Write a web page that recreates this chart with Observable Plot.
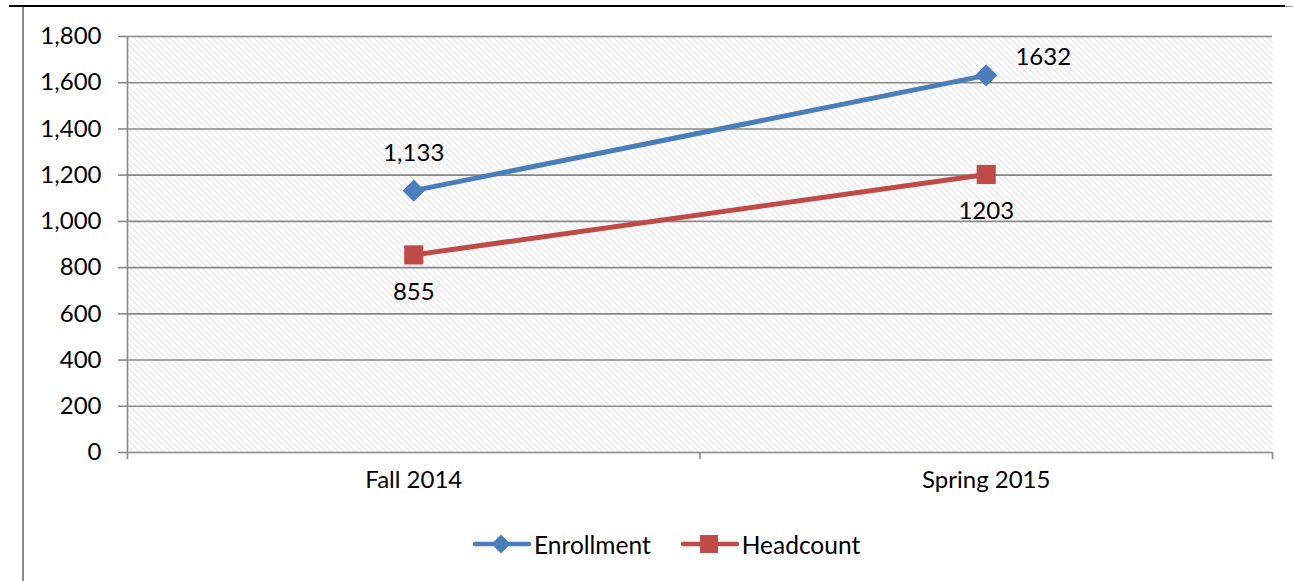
<!DOCTYPE html>
<html><head><meta charset="utf-8">
<script src="https://cdn.jsdelivr.net/npm/d3@7"></script>
<script src="https://cdn.jsdelivr.net/npm/@observablehq/plot@0.6"></script>
<style>
body{margin:0;background:#fff;font-family:Lato,"Open Sans",sans-serif;}
#wrap{position:relative;width:1293px;height:581px;overflow:hidden;background:#fff;}
#topline{position:absolute;left:9px;top:5px;width:1276px;height:2px;background:#000;}
#topline2{position:absolute;left:1285px;top:6px;width:8px;height:1px;background:#999;}
#leftline{position:absolute;left:22px;top:7px;width:2px;height:574px;background:#888;}
#chart{position:absolute;left:0;top:0;}
#legend{position:absolute;left:473px;top:529px;height:30px;display:flex;align-items:center;font-size:24.5px;color:#000;}
.item{display:flex;align-items:center;margin-right:30px;}
.item svg{margin-right:3px;}
</style></head><body>
<div id="wrap">
  <div id="chart"></div>
  <div id="topline"></div><div id="topline2"></div><div id="leftline"></div>
  <div id="legend"></div>
</div>
<script>
const categories = ["Fall 2014", "Spring 2015"];
const enrollment = [1133, 1632];
const headcount = [855, 1203];
const enrollmentLabels = ["1,133", "1632"];
const headcountLabels = ["855", "1203"];
const yTicks = [0, 200, 400, 600, 800, 1000, 1200, 1400, 1600, 1800];
const seriesNames = ["Enrollment", "Headcount"];
const seriesColors = ["#4A7EBB", "#BE4B48"];

const rows = categories.map((c, i) => ({
  i, c, enrollment: enrollment[i], headcount: headcount[i],
  eLabel: enrollmentLabels[i], hLabel: headcountLabels[i]
}));
const xc = d => d.i + 0.5;
const grid = "#878787";
const fs = 24;

const chart = Plot.plot({
  width: 1293, height: 500,
  marginLeft: 127, marginRight: 21, marginTop: 36, marginBottom: 48,
  x: {type: "linear", domain: [0, categories.length], axis: null},
  y: {domain: [0, 1800], axis: null},
  style: {fontFamily: "Lato, 'Open Sans', sans-serif", fontSize: fs + "px", color: "#000", background: "transparent", overflow: "visible"},
  marks: [
    Plot.frame({fill: "url(#hatch)", stroke: null}),
    Plot.ruleY(yTicks, {stroke: grid, strokeWidth: 1.6}),
    Plot.ruleX([0], {stroke: grid, strokeWidth: 1.6}),
    Plot.axisY({ticks: yTicks, tickSize: 9, tickPadding: 17, tickFormat: d3.format(","), stroke: grid, strokeWidth: 1.6, fill: "#000", fontSize: fs}),
    Plot.axisX({ticks: d3.range(categories.length + 1), tickSize: 7, tickFormat: () => "", stroke: grid, strokeWidth: 1.6}),
    Plot.text(rows, {x: xc, text: "c", frameAnchor: "bottom", dy: 35, fontSize: fs, fill: "#000"}),
    Plot.line(rows, {x: xc, y: "enrollment", stroke: seriesColors[0], strokeWidth: 5}),
    Plot.line(rows, {x: xc, y: "headcount", stroke: seriesColors[1], strokeWidth: 5}),
    Plot.dot(rows, {x: xc, y: "enrollment", symbol: "diamond2", r: 10, fill: seriesColors[0], stroke: null}),
    Plot.dot(rows, {x: xc, y: "headcount", symbol: "square", r: 10.8, fill: seriesColors[1], stroke: null}),
    Plot.text(rows.filter(d => d.i === 0), {x: xc, y: "enrollment", text: "eLabel", dy: -37, fontSize: fs, fill: "#000"}),
    Plot.text(rows.filter(d => d.i === 1), {x: xc, y: "enrollment", text: "eLabel", dx: 57, dy: -18, fontSize: fs, fill: "#000"}),
    Plot.text(rows, {x: xc, y: "headcount", text: "hLabel", dy: 37, fontSize: fs, fill: "#000"})
  ]
});

const defs = d3.select(chart).insert("defs", ":first-child");
const p = defs.append("pattern").attr("id", "hatch").attr("patternUnits", "userSpaceOnUse").attr("width", 6).attr("height", 6);
p.append("rect").attr("width", 6).attr("height", 6).attr("fill", "#fff");
p.append("path").attr("d", "M0,0L6,6M-1,5L1,7M5,-1L7,1").attr("stroke", "#d2d2d2").attr("stroke-width", 1);
document.getElementById("chart").appendChild(chart);

// legend
const legend = d3.select("#legend");
seriesNames.forEach((name, k) => {
  const item = legend.append("div").attr("class", "item");
  const s = item.append("svg").attr("width", 58).attr("height", 26);
  s.append("line").attr("x1", 2).attr("x2", 56).attr("y1", 13).attr("y2", 13)
    .attr("stroke", seriesColors[k]).attr("stroke-width", 4.5).attr("stroke-linecap", "round");
  if (k === 0) s.append("path").attr("d", d3.symbol(d3.symbolDiamond2, 230)()).attr("transform", "translate(28,13)").attr("fill", seriesColors[k]);
  else s.append("rect").attr("x", 19).attr("y", 4).attr("width", 18).attr("height", 18).attr("fill", seriesColors[k]);
  item.append("span").text(name);
});
</script>
</body></html>
